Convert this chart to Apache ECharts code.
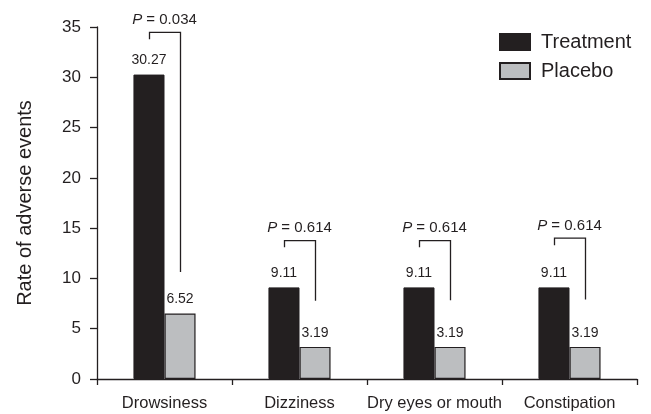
<!DOCTYPE html>
<html>
<head>
<meta charset="utf-8">
<script src="https://cdn.jsdelivr.net/npm/echarts@6/dist/echarts.min.js"></script>
<style>
  html, body { margin: 0; padding: 0; background: #fff; }
  #chart { width: 651px; height: 414px; }
</style>
</head>
<body>
<div id="chart"></div>
<script>
var chartDom = document.getElementById('chart');
var myChart = echarts.init(chartDom);
var option;

const categories = ['Drowsiness', 'Dizziness', 'Dry eyes or mouth', 'Constipation'];
const treatment = [30.27, 9.11, 9.11, 9.11];
const placebo = [6.52, 3.19, 3.19, 3.19];
// p-value brackets: [category, bracket top, left leg end, right leg end]
const pValues = ['0.034', '0.614', '0.614', '0.614'];
const brackets = [
  [0, 34.47, 33.77, 10.64],
  [1, 13.76, 13.1, 7.78],
  [2, 13.76, 13.1, 7.84],
  [3, 14.0, 13.3, 7.9]
];

const ink = '#231f20';
const font = 'Liberation Sans';
const barPct = 0.23;

option = {
  animation: false,
  textStyle: { fontFamily: font, color: ink },
  grid: { left: 97, right: 14, top: 27, bottom: 35 },
  legend: {
    data: ['Treatment', 'Placebo'],
    orient: 'vertical',
    left: 494,
    top: 27,
    itemWidth: 30,
    itemHeight: 16,
    itemGap: 9,
    icon: 'rect',
    textStyle: { fontSize: 20, color: ink, fontFamily: font, padding: [0, 0, 0, 6] }
  },
  xAxis: {
    type: 'category',
    data: categories,
    axisLine: { lineStyle: { color: ink, width: 1.3 } },
    axisTick: { show: true, length: 6, alignWithLabel: false, lineStyle: { color: ink, width: 1.3 } },
    axisLabel: { interval: 0, fontSize: 16.5, color: ink, margin: 16, fontFamily: font }
  },
  yAxis: {
    type: 'value',
    min: 0,
    max: 35,
    interval: 5,
    name: 'Rate of adverse events',
    nameLocation: 'middle',
    nameGap: 62,
    nameTextStyle: { fontSize: 20, color: ink, fontFamily: font },
    axisLine: { show: true, lineStyle: { color: ink, width: 1.3 } },
    axisTick: { show: true, length: 7, lineStyle: { color: ink, width: 1.3 } },
    axisLabel: { fontSize: 17, color: ink, margin: 16, fontFamily: font },
    splitLine: { show: false }
  },
  series: [
    {
      name: 'Treatment',
      type: 'bar',
      data: treatment,
      barWidth: (barPct * 100) + '%',
      barGap: '0%',
      itemStyle: { color: ink, borderColor: ink, borderWidth: 1 },
      label: { show: true, position: 'top', distance: 7, fontSize: 14, color: ink, fontFamily: font }
    },
    {
      name: 'Placebo',
      type: 'bar',
      data: placebo,
      barWidth: (barPct * 100) + '%',
      barGap: '0%',
      itemStyle: { color: '#bcbec0', borderColor: ink, borderWidth: 1.2 },
      label: { show: true, position: 'top', distance: 7, fontSize: 14, color: ink, fontFamily: font }
    },
    {
      type: 'custom',
      clip: false,
      silent: true,
      data: brackets,
      renderItem: function (params, api) {
        var cat = api.value(0);
        var half = api.size([1, 0])[0] * barPct / 2;
        var top = api.coord([cat, api.value(1)]);
        var lb = api.coord([cat, api.value(2)]);
        var rb = api.coord([cat, api.value(3)]);
        var xl = Math.round(top[0] - half) + 0.5;
        var xr = Math.round(top[0] + half) + 0.5;
        return {
          type: 'group',
          children: [
            {
              type: 'polyline',
              shape: { points: [[xl, lb[1]], [xl, top[1]], [xr, top[1]], [xr, rb[1]]] },
              style: { stroke: ink, lineWidth: 1.3, fill: null }
            },
            {
              type: 'text',
              style: {
                x: top[0],
                y: top[1] - 5,
                text: '{i|P} = ' + pValues[params.dataIndex],
                align: 'center',
                verticalAlign: 'bottom',
                fontSize: 15,
                fontFamily: font,
                fill: ink,
                rich: { i: { fontStyle: 'italic', fontSize: 15, fontFamily: font, fill: ink } }
              }
            }
          ]
        };
      }
    }
  ]
};

option && myChart.setOption(option);
</script>
</body>
</html>
